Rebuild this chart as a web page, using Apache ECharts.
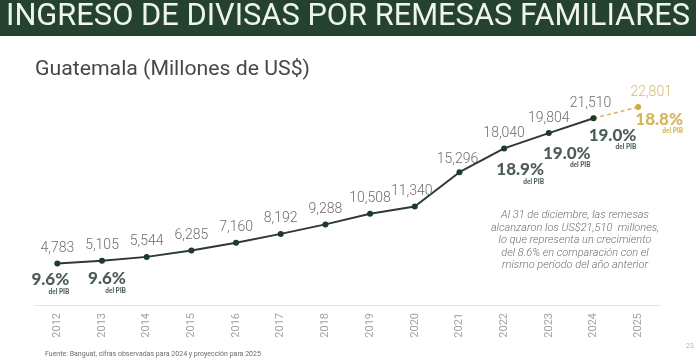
<!DOCTYPE html>
<html><head><meta charset="utf-8">
<script src="https://cdn.jsdelivr.net/npm/echarts@6/dist/echarts.min.js"></script>
<style>html,body{margin:0;padding:0;background:#fff}#c{width:696px;height:363px}</style>
</head><body><div id="c"></div>
<script>
var years = ['2012','2013','2014','2015','2016','2017','2018','2019','2020','2021','2022','2023','2024','2025'];
var observed = [4783,5105,5544,6285,7160,8192,9288,10508,11340,15296,18040,19804,21510,null];
var projected = [null,null,null,null,null,null,null,null,null,null,null,null,21510,22801];
var pibPct = [9.6,9.6,null,null,null,null,null,null,null,null,18.9,19.0,19.0,18.8];
var titleText = 'INGRESO DE DIVISAS POR REMESAS FAMILIARES';
var subtitleText = 'Guatemala (Millones de US$)';
var noteLines = ['Al 31 de diciembre, las remesas','alcanzaron los US$21,510  millones,','lo que representa un crecimiento','del 8.6% en comparación con el','mismo período del año anterior'];
var sourceText = 'Fuente: Banguat, cifras observadas para 2024 y proyección para 2025';

// label offsets (layout only)
var pibOffsets = {0:[-7,20],1:[5,22],10:[16,25],11:[18,24],12:[19,21],13:[21,16]};
var valOffsets = {8:[-3,0],9:[-2,2],12:[-3,0]};

function measure(txt, font){var c=document.createElement('canvas').getContext('2d');c.font=font;return c.measureText(txt).width;}
var titleFont = '400 31px Roboto';
var tScale = 684/measure(titleText,titleFont);
var subFont = '400 20px Roboto';
var sScale = 275/measure(subtitleText,subFont);

var chart = echarts.init(document.getElementById('c'));
var obsData = observed.map(function(v,i){
  var o={value:v};
  if(valOffsets[i]) o.label={offset:valOffsets[i]};
  return o;
});
var pibData = pibPct.map(function(v,i){
  if(v==null) return null;
  var gold = i===13;
  return {value:[i, (observed[i]!=null?observed[i]:projected[i])], pct:v,
    label:{offset:pibOffsets[i], rich:{p:{color:gold?'#c9a22e':'#1c3528'},d:{color:gold?'#c9a22e':'#1c3528'}}}};
});

chart.setOption({
  animation:false,
  grid:{left:35,right:35.5,top:88,bottom:58},
  xAxis:{type:'category',data:years,boundaryGap:true,
    axisLine:{lineStyle:{color:'#e4e4e4',width:1}},axisTick:{show:false},
    axisLabel:{rotate:90,color:'#a2a2a2',fontSize:11,fontFamily:'Roboto',margin:8}},
  yAxis:{type:'value',min:0,max:25000,show:false},
  series:[
    {type:'line',data:projected,z:2,symbol:'circle',symbolSize:6,
      lineStyle:{color:'#d9b25a',width:1.5,type:[4,3]},itemStyle:{color:'#d4a93e'},
      label:{show:true,position:'top',distance:4,color:'#d6b873',fontSize:14,fontFamily:'Roboto',fontWeight:300,
        offset:[13,-1],formatter:function(p){return p.dataIndex===13?p.value.toLocaleString('en-US'):'';}}},
    {type:'line',data:obsData,z:3,symbol:'circle',symbolSize:6,
      lineStyle:{color:'#2b3a32',width:2},itemStyle:{color:'#1d3a2b'},
      label:{show:true,position:'top',distance:5,color:'#6e6e6e',fontSize:14,fontFamily:'Roboto',fontWeight:300,
        formatter:function(p){return p.value.toLocaleString('en-US');}}},
    {type:'scatter',data:pibData,symbolSize:0,z:4,silent:true,
      label:{show:true,position:'inside',
        formatter:function(p){return '{p|'+p.data.pct.toFixed(1)+'%}\n{d|del PIB}';},
        rich:{p:{fontFamily:'Lato',fontWeight:900,fontSize:17,lineHeight:16,align:'center'},
              d:{fontFamily:'Lato',fontWeight:900,fontSize:6.5,lineHeight:8,align:'right'}}}}
  ],
  graphic:[
    {type:'rect',left:0,top:0,shape:{width:696,height:36},style:{fill:'#254231'},z:0},
    {type:'text',x:6,y:17,scaleX:tScale,style:{text:titleText,font:titleFont,fill:'#eef5ec',textVerticalAlign:'middle'}},
    {type:'text',x:35,y:70,scaleX:sScale,style:{text:subtitleText,font:subFont,fill:'#474747',textVerticalAlign:'middle'}},
    {type:'text',x:575,y:209,style:{text:noteLines.join('\n'),font:'italic 300 11px Roboto',lineHeight:12.5,fill:'#707070',textAlign:'center'}},
    {type:'text',x:45,y:354,style:{text:sourceText,font:'400 7px Roboto',fill:'#6a6a6a',textVerticalAlign:'middle'}},
    {type:'text',x:686,y:346,style:{text:'23',font:'400 7px Roboto',fill:'#b5b5b5',textVerticalAlign:'middle'}}
  ]
});
</script></body></html>
